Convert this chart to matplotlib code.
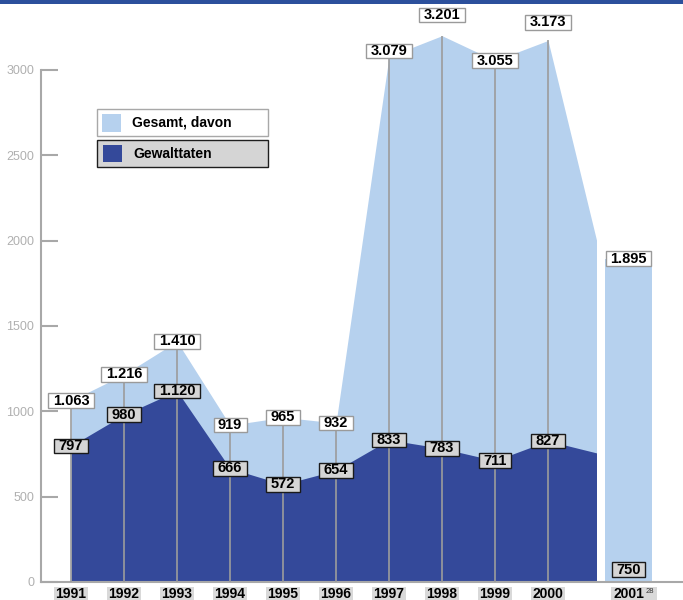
import matplotlib
matplotlib.use("Agg")
import matplotlib.pyplot as plt
from matplotlib import font_manager
from matplotlib.patches import Rectangle
from matplotlib.path import Path
import numpy as np

# Fälle pro Jahr: Gesamt und davon Gewalttaten
years = ["1991", "1992", "1993", "1994", "1995", "1996", "1997", "1998", "1999", "2000"]
gesamt = [1063, 1216, 1410, 919, 965, 932, 3079, 3201, 3055, 3173]
gewalt = [797, 980, 1120, 666, 572, 654, 833, 783, 711, 827]
year_2001 = "2001"
note_2001 = "28"
gesamt_2001 = 1895
gewalt_2001 = 750
y_ticks = [0, 500, 1000, 1500, 2000, 2500, 3000]
legend_labels = ["Gesamt, davon", "Gewalttaten"]

LIGHT = "#b6d1ee"
DARK = "#34499a"
GRID = "#a8a8a8"


def is_bold(entry):
    w = entry.weight
    return (isinstance(w, int) and w >= 700) or (isinstance(w, str) and "bold" in w.lower())


# a bold condensed face for the year labels, if one is installed
narrow = dict(family="Liberation Sans")
year_fs = 10
for f in font_manager.fontManager.ttflist:
    if f.name == "Liberation Sans Narrow" and is_bold(f):
        narrow = dict(family=f.name)
        year_fs = 11
        break

plt.rcParams["font.family"] = ["Liberation Sans", "DejaVu Sans"]

W, H = 683, 600
fig = plt.figure(figsize=(W / 100, H / 100), dpi=100)
ax = fig.add_axes([41 / W, 18 / H, 642 / W, 512 / H])
step = 53.0
ax.set_xlim((41 - 71) / step, (683 - 71) / step)
ax.set_ylim(0, 3000)

x = np.arange(len(years))

# areas run on towards 2001 and are cut off just before the 2001 bar
xa = np.append(x, len(years))
light = ax.fill_between(xa, 0, np.append(gesamt, gesamt_2001), color=LIGHT, lw=0, zorder=1)
dark = ax.fill_between(xa, 0, np.append(gewalt, gewalt_2001), color=DARK, lw=0, zorder=2)
cut = Rectangle((x[0], 0), (596 - 71) / step - x[0], 4000, transform=ax.transData)
light.set_clip_path(cut)
dark.set_clip_path(cut)

# 2001 as a separate bar
x2001 = len(years) + 0.52
ax.bar(x2001, gesamt_2001, width=0.89, color=LIGHT, lw=0, zorder=1)

ax.vlines(x, 0, gesamt, color="#9c9c9c", lw=1.2, zorder=3, clip_on=False)


def fmt(v):
    return f"{v:,}".replace(",", ".")


def make_box(left, right, vert):
    def box(x0, y0, width, height, mutation_size):
        pl, pr, pv = left * mutation_size, right * mutation_size, vert * mutation_size
        return Path([(x0 - pl, y0 - pv), (x0 + width + pr, y0 - pv),
                     (x0 + width + pr, y0 + height + pv), (x0 - pl, y0 + height + pv),
                     (x0 - pl, y0 - pv)], closed=True)
    return box


label_box = make_box(0.3, 0.3, 0.02)
white_box = dict(boxstyle=label_box, fc="white", ec="#9a9a9a", lw=1)
gray_box = dict(boxstyle=label_box, fc="#d5d5d5", ec="#1a1a1a", lw=1)
lift = {"1997": 4, "1998": 15, "2000": 13}
fs = 10.5

for xi, yr, g, w in zip(x, years, gesamt, gewalt):
    ax.annotate(fmt(g), (xi, g), xytext=(0, lift.get(yr, 0)), textcoords="offset points",
                ha="center", va="center", fontsize=fs, fontweight="bold",
                bbox=white_box, zorder=6, annotation_clip=False)
    ax.annotate(fmt(w), (xi, w), ha="center", va="center", fontsize=fs, fontweight="bold",
                bbox=gray_box, zorder=6, annotation_clip=False)

ax.annotate(fmt(gesamt_2001), (x2001, gesamt_2001), ha="center", va="center",
            fontsize=fs, fontweight="bold", bbox=white_box, zorder=6)
ax.annotate(fmt(gewalt_2001), (x2001, 0), xytext=(0, 9), textcoords="offset points",
            ha="center", va="center", fontsize=fs, fontweight="bold", bbox=gray_box, zorder=6)

# year labels under the baseline
year_box = dict(boxstyle=make_box(0.1, 0.1, 0.05), fc="#d9d9d9", ec="none")
for xi, yr in zip(x, years):
    ax.annotate(yr, (xi, 0), xytext=(0, -9), textcoords="offset points",
                ha="center", va="center", fontsize=year_fs, fontweight="bold",
                bbox=year_box, annotation_clip=False, **narrow)
# 2001 carries a footnote mark; its box is widened to the right to hold it
box_2001 = dict(year_box, boxstyle=make_box(0.15, 0.95, 0.05))
ax.annotate(year_2001, (x2001, 0), xytext=(0, -9), textcoords="offset points",
            ha="center", va="center", fontsize=year_fs, fontweight="bold",
            bbox=box_2001, annotation_clip=False, **narrow)
ax.annotate(note_2001, (x2001, 0), xytext=(12.5, -6.8), textcoords="offset points",
            ha="left", va="center", fontsize=5.5, color="#333333",
            annotation_clip=False, zorder=4)

# axes styling
for side in ("top", "right"):
    ax.spines[side].set_visible(False)
for side in ("left", "bottom"):
    ax.spines[side].set_color(GRID)
    ax.spines[side].set_linewidth(1.5)
ax.set_xticks([])
ax.set_yticks(y_ticks)
ax.tick_params(axis="y", direction="in", length=12, width=1.5, color=GRID,
               labelcolor="#b0b0b0", labelsize=9, pad=5)
ax.set_facecolor("none")


def px_rect(x0, y0, x1, y1, **kw):
    fig.add_artist(Rectangle((x0 / W, 1 - y1 / H), (x1 - x0) / W, (y1 - y0) / H,
                             transform=fig.transFigure, **kw))


# legend
px_rect(97, 109, 268, 136, fc="white", ec="#a8a8a8", lw=1)
px_rect(102, 114, 121, 132, fc=LIGHT, ec="none")
fig.text(132 / W, 1 - 122.5 / H, legend_labels[0], fontsize=10, fontweight="bold", va="center")
px_rect(97, 140, 268, 167, fc="#d5d5d5", ec="#1e1e1e", lw=1)
px_rect(103, 145, 122, 162, fc=DARK, ec="none")
fig.text(133 / W, 1 - 153.5 / H, legend_labels[1], fontsize=10, fontweight="bold", va="center")

# band along the top edge
px_rect(0, 0, W, 4, fc="#2c509c", ec="none")

fig.savefig("out.png", dpi=100)
